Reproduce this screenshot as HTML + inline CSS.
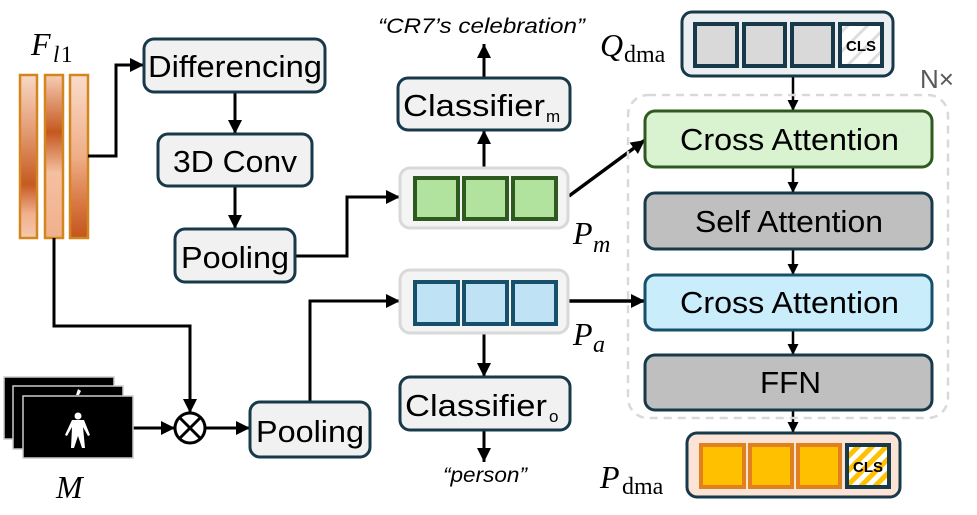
<!DOCTYPE html>
<html><head><meta charset="utf-8"><style>
html,body{margin:0;padding:0;background:#fff;}
svg{display:block;}
.s{font-family:"Liberation Sans",sans-serif;}
.m{font-family:"Liberation Serif",serif;font-style:italic;}
.r{font-family:"Liberation Serif",serif;}
</style></head><body>
<svg width="977" height="515" viewBox="0 0 977 515" xmlns="http://www.w3.org/2000/svg">
<defs>
<marker id="a" markerWidth="14" markerHeight="14" refX="12" refY="6" orient="auto" markerUnits="userSpaceOnUse" viewBox="0 0 12 12">
<path d="M0,0 L12,6 L0,12 z" fill="#000"/></marker>
<marker id="b" markerWidth="11" markerHeight="11" refX="10" refY="5" orient="auto" markerUnits="userSpaceOnUse" viewBox="0 0 10 10">
<path d="M0,0 L10,5 L0,10 z" fill="#000"/></marker>
<linearGradient id="g1" x1="0" y1="0" x2="0" y2="1">
<stop offset="0" stop-color="#f8d8c6"/><stop offset="0.35" stop-color="#e39a72"/><stop offset="0.67" stop-color="#c65a22"/><stop offset="0.85" stop-color="#efb08e"/><stop offset="1" stop-color="#f5c8ae"/></linearGradient>
<linearGradient id="g2" x1="0" y1="0" x2="0" y2="1">
<stop offset="0" stop-color="#f6cdb5"/><stop offset="0.35" stop-color="#c4581e"/><stop offset="0.6" stop-color="#f4c0a2"/><stop offset="1" stop-color="#f0b08c"/></linearGradient>
<linearGradient id="g3" x1="0" y1="0" x2="0" y2="1">
<stop offset="0" stop-color="#f9dccb"/><stop offset="0.5" stop-color="#f0ae88"/><stop offset="0.8" stop-color="#d77640"/><stop offset="1" stop-color="#c4541c"/></linearGradient>
<pattern id="st" width="10" height="10" patternUnits="userSpaceOnUse" patternTransform="rotate(45)">
<rect width="10" height="10" fill="#fff"/><rect width="5" height="10" fill="#ffc000"/></pattern>
<pattern id="st2" width="14" height="14" patternUnits="userSpaceOnUse" patternTransform="rotate(45)">
<rect width="14" height="14" fill="#fff"/><rect width="3" height="14" fill="#ddd"/></pattern>
</defs>

<rect x="20" y="75" width="17" height="163" fill="url(#g1)" stroke="#d4861e" stroke-width="2.5"/>
<rect x="45" y="75" width="18" height="163" fill="url(#g2)" stroke="#d4861e" stroke-width="2.5"/>
<rect x="70" y="75" width="18" height="163" fill="url(#g3)" stroke="#d4861e" stroke-width="2.5"/>
<text x="31" y="55" class="m" font-size="32">F</text>
<text x="53" y="62" class="m" font-size="23">l</text>
<text x="61" y="62" class="r" font-size="23">1</text>

<g fill="none" stroke="#000" stroke-width="3">
<path d="M88 156 H116 V65 H144" marker-end="url(#a)"/>
<path d="M235 92 V134" marker-end="url(#a)"/>
<path d="M235 186 V229" marker-end="url(#a)"/>
<path d="M295 256 H347 V197 H400" marker-end="url(#a)"/>
<path d="M54 238 V326 H190 V413" marker-end="url(#a)"/>
<path d="M133 428 H175" marker-end="url(#a)"/>
<path d="M205 428 H250" marker-end="url(#a)"/>
<path d="M310 402 V301 H400" marker-end="url(#a)"/>
<path d="M484 168 V130" marker-end="url(#a)"/>
<path d="M484 78 V44" marker-end="url(#a)"/>
<path d="M484 333 V377" marker-end="url(#a)"/>
<path d="M484 430 V462" marker-end="url(#a)"/>
<path d="M569 196 L645 140" stroke-width="3.5" marker-end="url(#a)"/>
<path d="M569 301 H645" stroke-width="3.5" marker-end="url(#a)"/>
</g>
<g fill="none" stroke="#000" stroke-width="2.5">
<path d="M793 76 V111" marker-end="url(#b)"/>
<path d="M793 167 V193" marker-end="url(#b)"/>
<path d="M793 249 V275" marker-end="url(#b)"/>
<path d="M793 330 V355" marker-end="url(#b)"/>
<path d="M793 410 V433" marker-end="url(#b)"/>
</g>

<g stroke="#17394a" stroke-width="3" fill="#f1f1f1">
<rect x="144" y="39" width="181" height="53" rx="10"/>
<rect x="158" y="134" width="154" height="52" rx="10"/>
<rect x="175" y="229" width="120" height="53" rx="10"/>
<rect x="250" y="402" width="120" height="55" rx="10"/>
<rect x="398" y="78" width="172" height="52" rx="10"/>
<rect x="400" y="377" width="170" height="53" rx="10"/>
</g>
<g class="s" font-size="31" fill="#000">
<text x="148" y="77" textLength="174" lengthAdjust="spacingAndGlyphs">Differencing</text>
<text x="173" y="172" textLength="124" lengthAdjust="spacingAndGlyphs">3D Conv</text>
<text x="181" y="268" textLength="108" lengthAdjust="spacingAndGlyphs">Pooling</text>
<text x="256" y="442" textLength="108" lengthAdjust="spacingAndGlyphs">Pooling</text>
<text x="403" y="116" textLength="142" lengthAdjust="spacingAndGlyphs">Classifier</text>
<text x="405" y="416" textLength="142" lengthAdjust="spacingAndGlyphs">Classifier</text>
</g>
<text x="546" y="122" class="s" font-size="17">m</text>
<text x="549" y="422" class="s" font-size="17">o</text>
<text x="378" y="33" class="s" font-size="21" font-style="italic" textLength="207" lengthAdjust="spacingAndGlyphs">“CR7’s celebration”</text>
<text x="443" y="482" class="s" font-size="21" font-style="italic" textLength="84" lengthAdjust="spacingAndGlyphs">“person”</text>

<rect x="4" y="377" width="110" height="62" fill="#000" stroke="#ccc" stroke-width="1.5"/>
<rect x="13" y="386" width="110" height="63" fill="#000" stroke="#ccc" stroke-width="1.5"/>
<rect x="23" y="396" width="110" height="62" fill="#000" stroke="#ccc" stroke-width="1.5"/>
<path d="M76 395 l2 -6 l3 2 l-2 4 z" fill="#fff"/>
<g fill="#fff"><circle cx="78" cy="416" r="3.5"/><path d="M72 420 h12 l6 15 l-2 1 l-5 -9 l2 21 h-3 l-4 -12 l-4 12 h-3 l1 -21 l-5 9 l-2 -1 z"/></g>
<text x="56" y="498" class="m" font-size="32">M</text>

<circle cx="190" cy="428" r="15" fill="#fff" stroke="#000" stroke-width="3"/>
<path d="M179.5 417.5 L200.5 438.5 M200.5 417.5 L179.5 438.5" stroke="#000" stroke-width="3"/>

<rect x="400" y="168" width="168" height="60" rx="10" fill="#f4f4f4" stroke="#d9d9d9" stroke-width="3"/>
<g fill="#b1e39f" stroke="#2f5a1f" stroke-width="4">
<rect x="415" y="178" width="43" height="41"/><rect x="464" y="178" width="43" height="41"/><rect x="513" y="178" width="43" height="41"/></g>
<text x="573" y="244" class="m" font-size="32">P</text><text x="593" y="252" class="m" font-size="24">m</text>

<rect x="400" y="270" width="168" height="63" rx="10" fill="#f4f4f4" stroke="#d9d9d9" stroke-width="3"/>
<g fill="#bfe3f4" stroke="#16506a" stroke-width="4">
<rect x="415" y="282" width="43" height="42"/><rect x="464" y="282" width="43" height="42"/><rect x="513" y="282" width="43" height="42"/></g>
<text x="573" y="345" class="m" font-size="32">P</text><text x="593" y="352" class="m" font-size="24">a</text>

<text x="600" y="56" class="m" font-size="32">Q</text><text x="624" y="62" class="r" font-size="24">dma</text>
<rect x="682" y="12" width="211" height="64" rx="10" fill="#eceff1" stroke="#17394a" stroke-width="3"/>
<g fill="#d9d9d9" stroke="#17394a" stroke-width="4">
<rect x="695" y="24" width="42" height="42"/><rect x="744" y="24" width="41" height="42"/><rect x="792" y="24" width="41" height="42"/>
<rect x="840" y="24" width="42" height="42" fill="url(#st2)"/></g>
<text x="861" y="51" class="s" font-size="15" font-weight="bold" text-anchor="middle">CLS</text>

<rect x="628" y="95" width="320" height="323" rx="20" fill="none" stroke="#d9d9d9" stroke-width="2.5" stroke-dasharray="8,6"/>
<text x="920" y="88" class="s" font-size="26" fill="#595959">N×</text>

<rect x="645" y="111" width="287" height="56" rx="10" fill="#d9f2d0" stroke="#2f5a1f" stroke-width="3"/>
<rect x="645" y="193" width="287" height="56" rx="10" fill="#bfbfbf" stroke="#17394a" stroke-width="3"/>
<rect x="645" y="275" width="287" height="55" rx="10" fill="#caedfb" stroke="#16506a" stroke-width="3"/>
<rect x="645" y="355" width="287" height="55" rx="10" fill="#bfbfbf" stroke="#17394a" stroke-width="3"/>
<g class="s" font-size="31">
<text x="680" y="150" textLength="219" lengthAdjust="spacingAndGlyphs">Cross Attention</text>
<text x="695" y="232" textLength="188" lengthAdjust="spacingAndGlyphs">Self Attention</text>
<text x="680" y="313" textLength="219" lengthAdjust="spacingAndGlyphs">Cross Attention</text>
<text x="760" y="393" textLength="61" lengthAdjust="spacingAndGlyphs">FFN</text>
</g>

<text x="600" y="488" class="m" font-size="32">P</text><text x="622" y="494" class="r" font-size="24">dma</text>
<rect x="687" y="433" width="213" height="64" rx="10" fill="#fbe3d6" stroke="#17394a" stroke-width="3"/>
<g fill="#ffc000" stroke="#e0801e" stroke-width="4">
<rect x="701" y="445" width="43" height="42"/><rect x="750" y="445" width="42" height="42"/><rect x="798" y="445" width="42" height="42"/></g>
<rect x="847" y="445" width="42" height="42" fill="url(#st)" stroke="#17394a" stroke-width="4"/>
<text x="868" y="472" class="s" font-size="15" font-weight="bold" text-anchor="middle">CLS</text>
</svg>
</body></html>
